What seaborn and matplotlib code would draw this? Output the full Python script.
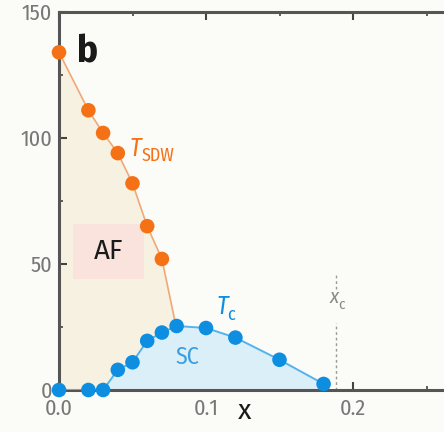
import numpy as np
import pandas as pd
import matplotlib
matplotlib.use("Agg")
import matplotlib.pyplot as plt
import seaborn as sns
from matplotlib.patches import Rectangle
from matplotlib.transforms import offset_copy

# ---- data ----
sdw_x = [0.0, 0.02, 0.03, 0.04, 0.05, 0.06, 0.07]
sdw_T = [134, 111, 102, 94, 82, 65, 52]
sdw_end_x = 0.079
sdw_end_T = 27

tc_x = [0.0, 0.02, 0.03, 0.04, 0.05, 0.06, 0.07, 0.08, 0.10, 0.12, 0.15, 0.18]
tc_T = [0, 0, 0, 8, 11, 19.5, 22.8, 25.4, 24.6, 20.8, 12, 2.4]

xc = 0.1885
x_ticks = [0.0, 0.1, 0.2]
x_tick_labels = ["0.0", "0.1", "0.2"]
y_ticks = [0, 50, 100, 150]

sns.set_theme(style="white")
cond = ['Fira Sans Condensed', 'Roboto Condensed', 'DejaVu Sans']
reg = ['Fira Sans', 'Open Sans', 'DejaVu Sans']
plt.rcParams['font.family'] = cond

fig = plt.figure(figsize=(4.44, 4.32), dpi=100)
fig.patch.set_facecolor("#fbfbf8")
ax = fig.add_axes([59/444, 1-390/432, (444-59)/444, (390-12)/432])
ax.set_facecolor("#fbfbf8")

orange = "#f57115"
orange_line = "#f0a878"
blue = "#0d8ee0"
blue_line = "#52b4ea"

# fills
line_x = sdw_x + [sdw_end_x]
line_T = sdw_T + [sdw_end_T]
ax.fill_between(line_x, line_T, 0, color="#f7f1e1", lw=0, zorder=0)
sc_mask = [i for i, x in enumerate(tc_x) if x >= 0.03]
ax.fill_between([tc_x[i] for i in sc_mask], [tc_T[i] for i in sc_mask], 0,
                color="#dbeff9", lw=0, zorder=1)

# AF box
ax.add_patch(Rectangle((0.0095, 44), 0.048, 22, facecolor="#f9e3dc", edgecolor="none", zorder=1))
ax.text(0.0335, 55, "AF", fontsize=20, color="#1a1a1a", ha="center", va="center", zorder=2,
        family=reg)

# lines
df_sdw = pd.DataFrame({"x": line_x, "T": line_T})
df_tc = pd.DataFrame({"x": tc_x, "T": tc_T})
sns.lineplot(data=df_sdw, x="x", y="T", ax=ax, color=orange_line, lw=1.2, zorder=3, sort=False)
sns.lineplot(data=df_tc, x="x", y="T", ax=ax, color=blue_line, lw=1.4, zorder=3, sort=False)

# markers
sns.scatterplot(data=pd.DataFrame({"x": sdw_x, "T": sdw_T}), x="x", y="T", ax=ax,
                color=orange, s=110, edgecolor="none", zorder=5, clip_on=False)
sns.scatterplot(data=df_tc, x="x", y="T", ax=ax,
                color=blue, s=110, edgecolor="none", zorder=5, clip_on=False)


def sub_label(x, y, main, sub, color, size, subsize, dx, dy):
    ax.text(x, y, main, fontsize=size, color=color, style="italic", ha="left", va="baseline")
    tr = offset_copy(ax.transData, fig=fig, x=dx, y=dy, units="points")
    ax.text(x, y, sub, fontsize=subsize, color=color, ha="left", va="baseline", transform=tr)


# xc dashed line
ax.plot([xc, xc], [0, 26.5], ls=(0, (2, 2)), color="#9a9a9a", lw=1.0, zorder=2)
ax.plot([xc, xc], [40, 46], ls=(0, (2, 2)), color="#9a9a9a", lw=1.0, zorder=2)
sub_label(0.184, 34.5, "x", "c", "#8a8a8a", 15, 11, 6.5, -4)

# labels
ax.text(0.012, 130, "b", fontsize=28, fontweight="bold", color="#1a1a1a", ha="left", va="baseline")
sub_label(0.048, 93, "T", "SDW", orange, 18, 13, 8.5, -4)
sub_label(0.107, 30, "T", "c", blue, 18, 13, 8, -4)
ax.text(0.0875, 13, "SC", fontsize=17, color="#3a9ee0", ha="center", va="center")

ax.set_xlim(0, (444-59)/1470)
ax.set_ylim(0, 150)
ax.set_xticks(x_ticks)
ax.set_xticklabels(x_tick_labels)
ax.set_yticks(y_ticks)
ax.set_xticks([0.05, 0.15, 0.25], minor=True)
ax.set_yticks([25, 75, 125], minor=True)
ax.tick_params(axis="both", which="major", direction="in", length=6, width=1.5,
               color="#444444", labelcolor="#777777", labelsize=16)
ax.tick_params(axis="x", which="major", pad=6)
ax.tick_params(axis="y", which="major", pad=5)
ax.tick_params(axis="both", which="minor", direction="in", length=3, width=1.2, color="#444444")
ax.tick_params(axis="x", which="both", top=True, bottom=True)
ax.tick_params(axis="y", which="both", left=True)
ax.set_xlabel("")
ax.set_ylabel("")
ax.text((245-59)/385, -0.055, "x", transform=ax.transAxes, fontsize=20, color="#1a1a1a",
        ha="center", va="center", family=reg)

for s in ["left", "bottom", "top"]:
    ax.spines[s].set_visible(True)
    ax.spines[s].set_color("#555555")
    ax.spines[s].set_linewidth(2.2)
ax.spines["right"].set_visible(False)

fig.savefig("out.png", dpi=100, facecolor=fig.get_facecolor())
